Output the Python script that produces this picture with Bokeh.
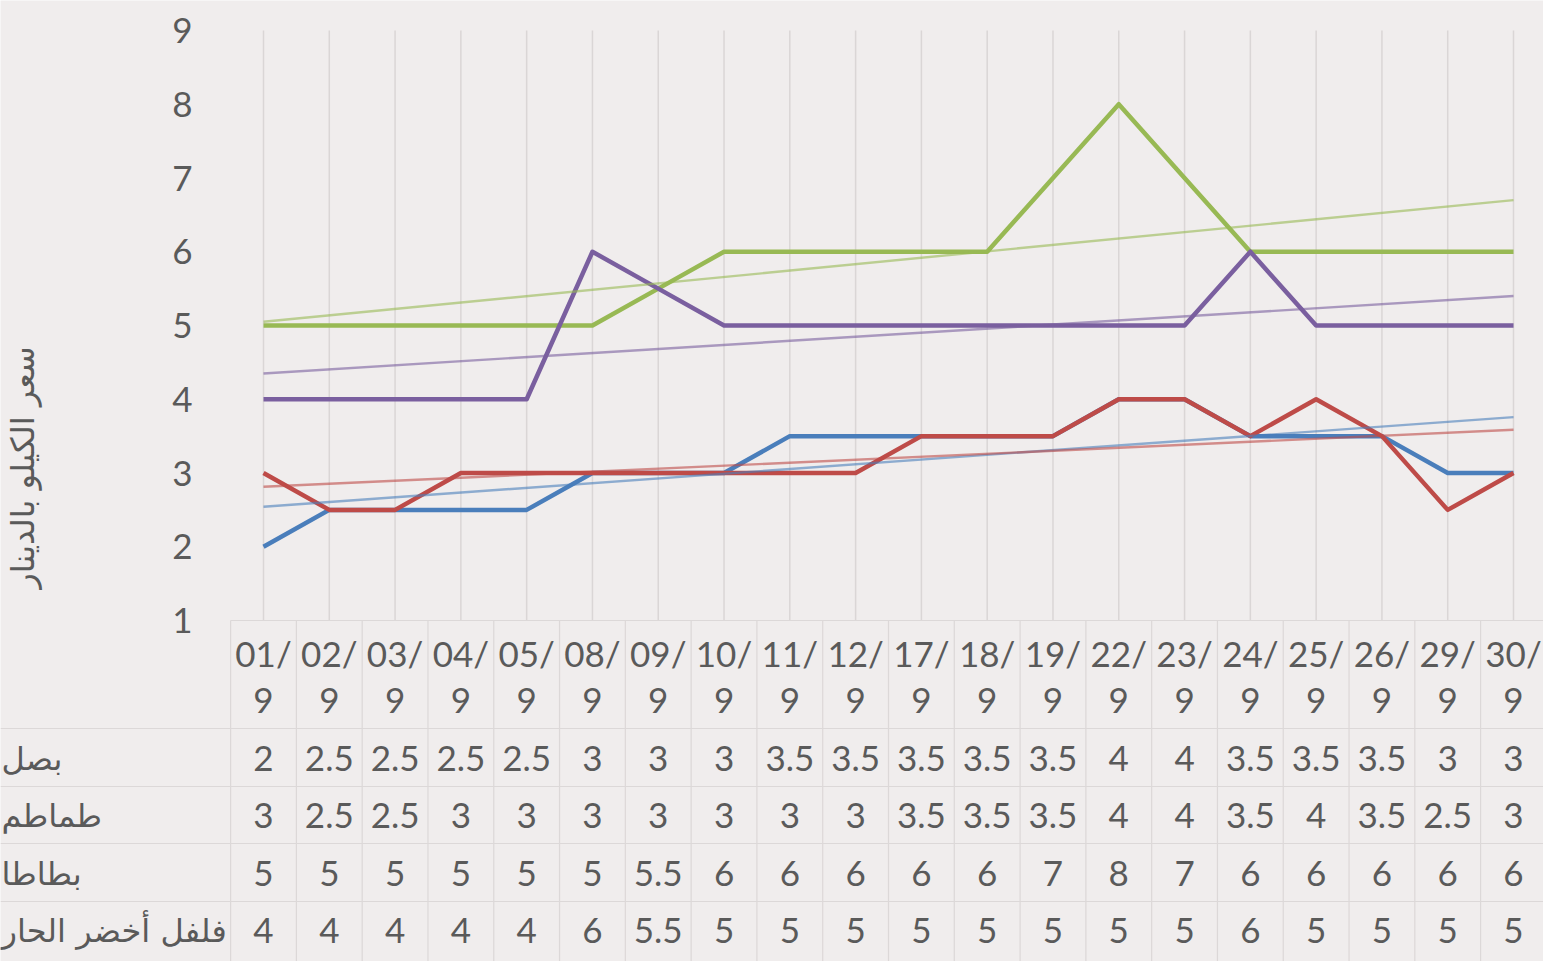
import numpy as np
from bokeh.plotting import figure
from bokeh.models import Range1d
from bokeh.core.properties import value
from bokeh.embed import file_html
from bokeh.resources import INLINE

# ---------------- data ----------------
days = ["01", "02", "03", "04", "05", "08", "09", "10", "11", "12",
        "17", "18", "19", "22", "23", "24", "25", "26", "29", "30"]
month = "9"
y_ticks = [1, 2, 3, 4, 5, 6, 7, 8, 9]
series_names = ["بصل", "طماطم", "بطاطا", "فلفل أخضر الحار"]
onion = [2, 2.5, 2.5, 2.5, 2.5, 3, 3, 3, 3.5, 3.5, 3.5, 3.5, 3.5, 4, 4, 3.5, 3.5, 3.5, 3, 3]
tomato = [3, 2.5, 2.5, 3, 3, 3, 3, 3, 3, 3, 3.5, 3.5, 3.5, 4, 4, 3.5, 4, 3.5, 2.5, 3]
potato = [5, 5, 5, 5, 5, 5, 5.5, 6, 6, 6, 6, 6, 7, 8, 7, 6, 6, 6, 6, 6]
pepper = [4, 4, 4, 4, 4, 6, 5.5, 5, 5, 5, 5, 5, 5, 5, 5, 6, 5, 5, 5, 5]
y_title = "سعر الكيلو بالدينار"

series = [onion, tomato, potato, pepper]
colors = ["#4a7ebb", "#be4b48", "#98b954", "#7a5f9f"]

# ---------------- layout helpers (page pixel -> data) ----------------
PX_X0, PX_DX = 263.0, 65.79      # pixel of first category, pixel per category
PX_Y1, PX_DY = 620.0, 73.75      # pixel of y=1, pixel per unit

def xd(px):
    return (px - PX_X0) / PX_DX

def yd(py):
    return 1 + (PX_Y1 - py) / PX_DY

W, H = 1543, 961

BG = "#f0eded"
TXT = "#5a5a5a"
NUM_FONT = "Lato"
AR_FONT = "DejaVu Sans"

p = figure(width=W, height=H,
           x_range=Range1d(xd(0), xd(W)),
           y_range=Range1d(yd(H), yd(0)),
           x_axis_type=None, y_axis_type=None,
           output_backend="svg", toolbar_location=None,
           min_border_left=0, min_border_right=0,
           min_border_top=0, min_border_bottom=0)
p.title.visible = False
p.background_fill_color = BG
p.border_fill_color = BG
p.outline_line_color = None
p.grid.visible = False

x = np.arange(len(days))

# vertical gridlines in the plot area
p.segment(x0=x, y0=y_ticks[0], x1=x, y1=y_ticks[-1], line_color="#dad6d6", line_width=1.5)

# data-table grid
edges = np.arange(len(days) + 1) - 0.5
row_bounds = [yd(728), yd(786), yd(843), yd(901)]
p.segment(x0=edges, y0=y_ticks[0], x1=edges, y1=yd(H + 5), line_color="#dcd8d8", line_width=1.2)
p.segment(x0=edges[0], y0=y_ticks[0], x1=edges[-1], y1=y_ticks[0], line_color="#dcd8d8", line_width=1.2)
p.segment(x0=xd(0), y0=row_bounds, x1=edges[-1], y1=row_bounds, line_color="#dcd8d8", line_width=1.2)

# series lines
for vals, c in zip(series, colors):
    p.line(x, vals, line_color=c, line_width=4.5, line_join="round")

# linear trendlines
for vals, c in zip(series, colors):
    coef = np.polyfit(x, vals, 1)
    xe = x[[0, -1]]
    p.line(xe, np.polyval(coef, xe), line_color=c, line_width=2.4, line_alpha=0.6)

num_kw = dict(text_baseline="middle", text_font=value(NUM_FONT),
              text_font_size="35px", text_color=TXT)

# y tick labels
p.text(x=xd(182), y=y_ticks, text=[str(t) for t in y_ticks], text_align="center", **num_kw)

# data table text
p.text(x=x, y=yd(652), text=[d + "/" for d in days], text_align="center", **num_kw)
p.text(x=x, y=yd(700), text=[month] * len(days), text_align="center", **num_kw)
row_y = [yd(758), yd(815), yd(873), yd(930)]
for vals, ry in zip(series, row_y):
    p.text(x=x, y=ry, text=[f"{v:g}" for v in vals], text_align="center", **num_kw)

# row labels of the data table
p.text(x=xd(1), y=row_y, text=series_names, text_align="left", text_baseline="middle",
       text_font=value(AR_FONT), text_font_size="32px", text_color=TXT)

# y-axis title (rotated)
p.text(x=[xd(22)], y=[yd(467)], text=[y_title], angle=np.pi / 2,
       text_align="center", text_baseline="middle",
       text_font=value(AR_FONT), text_font_size="32px", text_color=TXT)

open("out.html", "w").write(file_html(p, INLINE))
